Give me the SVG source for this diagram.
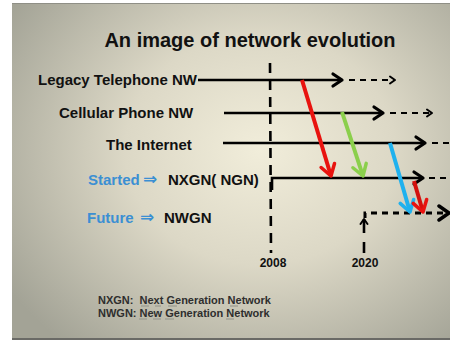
<svg xmlns="http://www.w3.org/2000/svg" width="450" height="341" viewBox="0 0 450 341">
<defs>
<radialGradient id="bg" cx="260" cy="150" r="300" gradientUnits="userSpaceOnUse" gradientTransform="translate(260 150) scale(1 0.85) translate(-260 -150)">
<stop offset="0" stop-color="#f1edda"/>
<stop offset="0.45" stop-color="#dcd8c6"/>
<stop offset="1" stop-color="#a3a396"/>
</radialGradient>
<marker id="hb" markerUnits="userSpaceOnUse" markerWidth="14" markerHeight="16" refX="11" refY="7" orient="auto" overflow="visible">
<path d="M2,1 L11,7 L2,13" class="mk" stroke="#000" stroke-width="3.2"/>
</marker>
<marker id="hs" markerUnits="userSpaceOnUse" markerWidth="10" markerHeight="10" refX="6" refY="4" orient="auto" overflow="visible">
<path d="M1,0.5 L6,4 L1,7.5" class="mk" stroke="#000" stroke-width="2"/>
</marker>
<marker id="hr" markerUnits="userSpaceOnUse" markerWidth="16" markerHeight="16" refX="12" refY="7" orient="auto" overflow="visible">
<path d="M1,0 L12,7 L1,14" class="mk" stroke="#e8130f" stroke-width="3.5"/>
</marker>
<marker id="hg" markerUnits="userSpaceOnUse" markerWidth="16" markerHeight="16" refX="12" refY="7" orient="auto" overflow="visible">
<path d="M1,0 L12,7 L1,14" class="mk" stroke="#8bcf4c" stroke-width="3.5"/>
</marker>
<marker id="hbl" markerUnits="userSpaceOnUse" markerWidth="16" markerHeight="16" refX="12" refY="7" orient="auto" overflow="visible">
<path d="M1,0 L12,7 L1,14" class="mk" stroke="#1fb1ee" stroke-width="3.5"/>
</marker>
</defs>
<style>
.t{font-family:"Liberation Sans",Arial,sans-serif;font-weight:bold;fill:#111}
.lbl{font-size:15px}
.blue{fill:#3b8fd3}
.arr{font-family:"DejaVu Sans","Liberation Sans",sans-serif;font-weight:bold;font-size:17px}
.fn{font-size:11px;fill:#2e2e2e}
.yr{font-size:12px}
.mk{fill:none;stroke-linecap:round;stroke-linejoin:round;stroke-dasharray:none}
.sol{stroke:#000;stroke-width:2.6;fill:none}
.dsh{stroke:#000;stroke-width:2;fill:none;stroke-dasharray:6 5}
.vd{stroke:#000;stroke-width:2.6;fill:none;stroke-dasharray:10 7}
.col{stroke-width:4;fill:none}
.ul{stroke:#9a9a90;stroke-width:1.2}
</style>
<rect x="0" y="0" width="450" height="341" fill="#ffffff"/>
<rect x="12" y="3" width="440" height="336" fill="url(#bg)"/>
<line x1="12" y1="339" x2="450" y2="339" stroke="#6a6a66" stroke-width="2"/>
<line x1="12" y1="3.5" x2="450" y2="3.5" stroke="#8f8f86" stroke-width="1"/>

<text class="t" x="250" y="47" font-size="20" text-anchor="middle">An image of network evolution</text>

<g id="legacy"><text class="t lbl" x="38" y="85">Legacy Telephone NW</text></g>
<g id="cellular"><text class="t lbl" x="59" y="118">Cellular Phone NW</text></g>
<g id="internet"><text class="t lbl" x="106" y="150">The Internet</text></g>
<g id="nxgn">
<text class="t lbl blue" x="88" y="185">Started</text>
<text class="t arr blue" x="143" y="185">⇒</text>
<text class="t lbl" x="168" y="185">NXGN( NGN)</text>
</g>
<g id="nwgn">
<text class="t lbl blue" x="87" y="223">Future</text>
<text class="t arr blue" x="140" y="223">⇒</text>
<text class="t lbl" x="164" y="223">NWGN</text>
</g>
<g id="y2008"><text class="t yr" x="273" y="267" text-anchor="middle">2008</text></g>
<g id="y2020"><text class="t yr" x="365" y="267" text-anchor="middle">2020</text></g>

<g id="connectors">
<line class="vd" x1="270" y1="63" x2="271" y2="253"/>
<line class="sol" x1="198" y1="80" x2="342" y2="80" marker-end="url(#hb)"/>
<line class="dsh" x1="349" y1="80" x2="395" y2="80" marker-end="url(#hs)"/>
<line class="sol" x1="224" y1="113" x2="383" y2="113" marker-end="url(#hb)"/>
<line class="dsh" x1="390" y1="113" x2="432" y2="113" marker-end="url(#hs)"/>
<line class="sol" x1="223" y1="143" x2="425" y2="143" marker-end="url(#hb)"/>
<line class="dsh" x1="432" y1="143" x2="452" y2="143"/>
<polyline class="sol" points="272,190 272,178 423,178" marker-end="url(#hb)"/>
<line class="dsh" x1="429" y1="178" x2="452" y2="178"/>
<polyline class="dsh" points="365,218 365,213 446,213" style="stroke-width:3"/>
<path class="mk" d="M439,206 L449,213 L439,220" stroke="#000" stroke-width="3.5"/>
<line class="sol" x1="364" y1="233" x2="364" y2="219" marker-end="url(#hs)"/>
<line class="sol" x1="364" y1="242" x2="364" y2="253"/>
<line class="col" stroke="#e8130f" x1="302" y1="80" x2="331" y2="176" marker-end="url(#hr)"/>
<line class="col" stroke="#8bcf4c" x1="342" y1="112" x2="363" y2="176" marker-end="url(#hg)"/>
<line class="col" stroke="#1fb1ee" x1="390" y1="143" x2="410" y2="212" marker-end="url(#hbl)"/>
<line class="col" stroke="#d4100c" x1="414" y1="181" x2="423" y2="212" marker-end="url(#hr)"/>
</g>

<g id="footnote">
<text class="t fn" x="98" y="304" xml:space="preserve">NXGN:  Next Generation Network</text>
<text class="t fn" x="98" y="317">NWGN: New Generation Network</text>
<line class="ul" x1="141" y1="306" x2="149" y2="306"/>
<line class="ul" x1="155" y1="306" x2="161" y2="306"/>
<line class="ul" x1="168" y1="306" x2="177" y2="306"/>
<line class="ul" x1="230" y1="306" x2="238" y2="306"/>
<line class="ul" x1="139" y1="319" x2="147" y2="319"/>
<line class="ul" x1="153" y1="319" x2="161" y2="319"/>
<line class="ul" x1="165" y1="319" x2="174" y2="319"/>
<line class="ul" x1="226" y1="319" x2="234" y2="319"/>
</g>
</svg>
